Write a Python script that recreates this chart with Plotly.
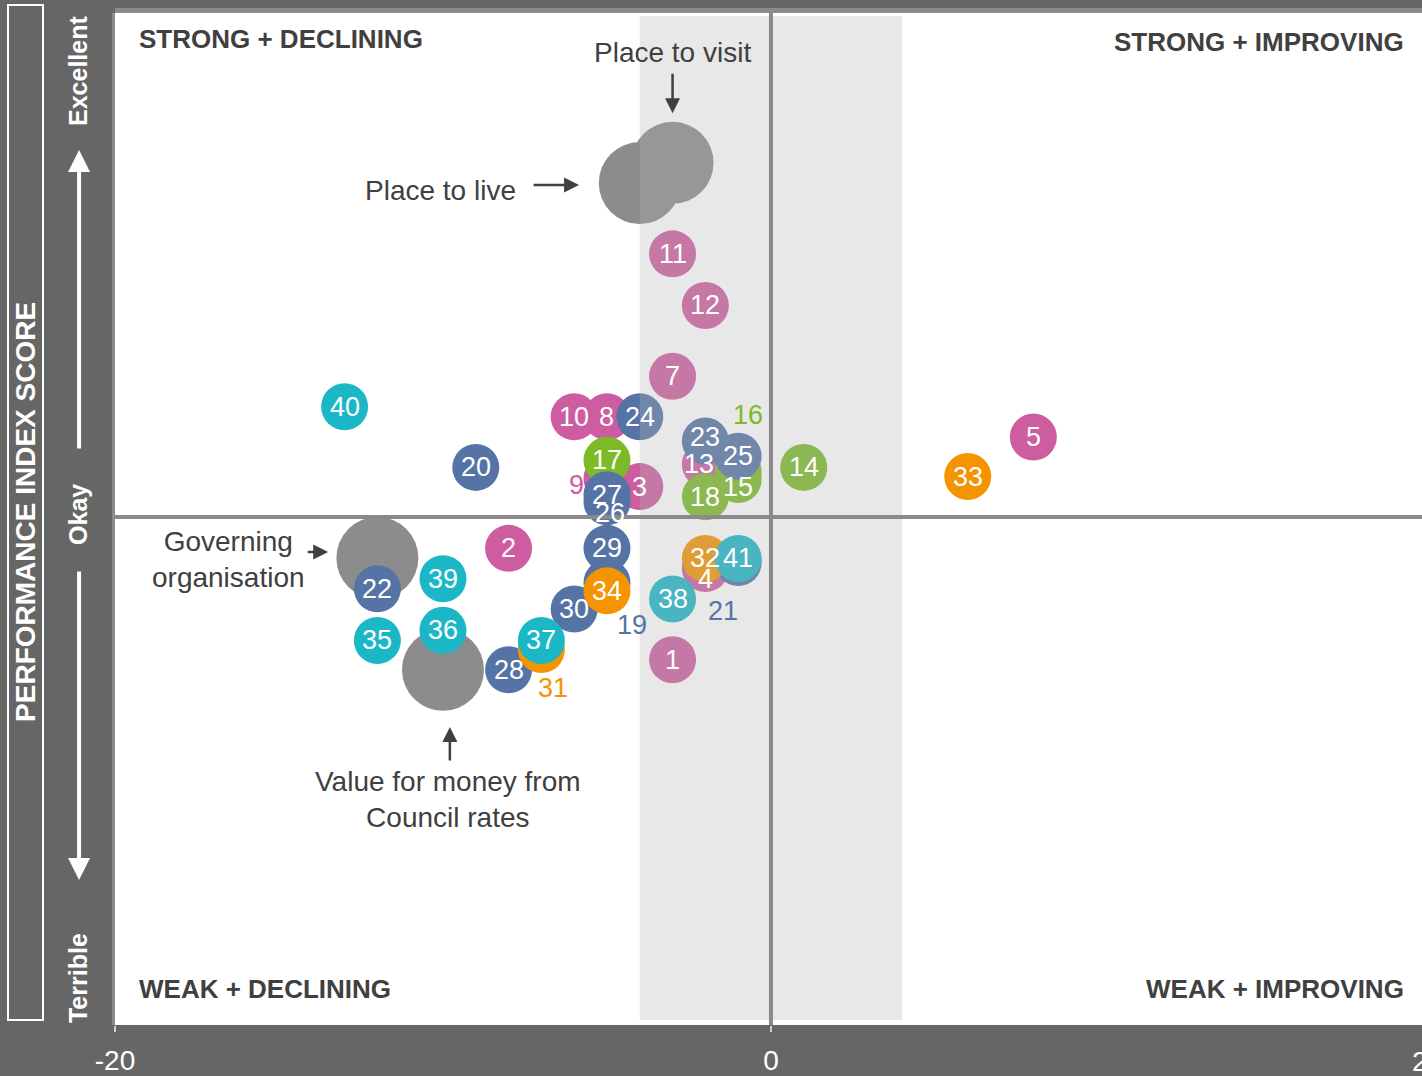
from plotly.graph_objects import Figure, Scatter


# performance index bubble chart: change (x) against score (y)

ids     = [1, 2, 3, 4, 5, 7, 8, 9, 10, 11, 12, 13,
           14, 15, 16, 17, 18,
           19, 20, 21, 22, 23, 24, 25, 26, 27, 28, 29, 30,
           31, 32, 33, 34,
           35, 36, 37, 38, 39, 40, 41]
change  = [-3, -8, -4, -2, 8, -3, -5, -5, -6, -3, -2, -2,
           1, -1, -1, -5, -2,
           -5, -9, -1, -12, -2, -4, -1, -5, -5, -8, -5, -6,
           -7, -2, 6, -5,
           -12, -10, -7, -3, -10, -13, -1]
score   = [-14.1, -3.1, 3.0, -5.1, 7.9, 13.9, 9.9, 3.8, 9.9, 26.0, 20.9, 5.2,
           4.9, 3.7, 4.5, 5.6, 2.0,
           -6.5, 4.9, -4.5, -7.1, 7.5, 9.9, 6.0, 1.5, 2.2, -15.1, -3.1, -9.1,
           -13.1, -4.1, 4.0, -7.3,
           -12.2, -11.2, -12.2, -8.1, -6.1, 10.9, -4.1]
group   = ["pink"] * 12 + ["green"] * 5 + ["blue"] * 12 + ["orange"] * 4 + ["cyan"] * 7

drivers         = ["Place to live", "Place to visit", "Governing organisation", "Value for money from Council rates"]
driver_change   = [-4, -3, -12, -10]
driver_score    = [33.0, 35.0, -4.05, -15.1]

colours = {
    "pink":   "#cd5da0",
    "green":  "#7cbb27",
    "blue":   "#5574a5",
    "orange": "#f39400",
    "cyan":   "#1bb7c6",
}

# labels that sit off their bubble (pixel shift, text colour)
moved_labels = {
    4:  (0, -10, "white"),
    9:  (-30, -6, colours["pink"]),
    13: (-6, 0, "white"),
    15: (0, -7, "white"),
    16: (10, 56, colours["green"]),
    19: (25, -42, colours["blue"]),
    21: (-15, -48, colours["blue"]),
    23: (0, 4, "white"),
    26: (3, -11, "white"),
    31: (12, -38, colours["orange"]),
}

FONT    = "Arial, Liberation Sans, sans-serif"
DARK    = "#404040"


if __name__ == "__main__":

    fig = Figure()

    fig.add_trace(Scatter(
        x = driver_change, y = driver_score, mode = "markers",
        marker = dict(size = 82, color = "#8c8c8c", line = dict(width = 0)),
        hoverinfo = "text", text = drivers, showlegend = False,
    ))

    for g in ["pink", "green", "blue", "orange", "cyan"]:

        idx = [i for i in range(len(ids)) if group[i] == g]

        fig.add_trace(Scatter(
            x = [change[i] for i in idx], y = [score[i] for i in idx], mode = "markers",
            marker = dict(size = 47, color = colours[g], line = dict(width = 0), opacity = 1),
            text = [str(ids[i]) for i in idx], hoverinfo = "text", showlegend = False,
        ))

    anns = []

    for i in range(len(ids)):

        dx, dy, col = moved_labels.get(ids[i], (0, 0, "white"))

        anns.append(dict(
            x = change[i], y = score[i], xref = "x", yref = "y", text = str(ids[i]),
            showarrow = False, xshift = dx, yshift = dy,
            font = dict(family = FONT, size = 27, color = col),
        ))

    # driver call-outs
    callouts = [
        ("Place to visit", -3, 45.85, "center"),
        ("Place to live", -10.09, 32.3, "center"),
        ("Governing<br>organisation", -16.55, -4.25, "center"),
        ("Value for money from<br>Council rates", -9.85, -27.9, "center"),
    ]
    for t, x, y, al in callouts:
        anns.append(dict(x = x, y = y, xref = "x", yref = "y", text = t, showarrow = False, align = al,
                         font = dict(family = FONT, size = 28, color = DARK)))

    arrows = [(-3, 39.9, 0, -41), (-5.85, 32.8, -47, 0), (-13.5, -3.46, -22, 0), (-9.79, -20.75, 0, 35)]
    for x, y, ax, ay in arrows:
        anns.append(dict(x = x, y = y, xref = "x", yref = "y", text = "", showarrow = True,
                         ax = ax, ay = ay, arrowhead = 2, arrowsize = 1.2, arrowwidth = 2.5,
                         arrowcolor = DARK, standoff = 0, startstandoff = 0))

    # quadrant labels
    quads = [
        ("STRONG + DECLINING", 0, 1, "left", 22, -26),
        ("STRONG + IMPROVING", 1, 1, "right", -16, -29),
        ("WEAK + DECLINING", 0, 0, "left", 22, 36),
        ("WEAK + IMPROVING", 1, 0, "right", -16, 36),
    ]
    for t, x, y, xa, xs, ys in quads:
        anns.append(dict(x = x, y = y, xref = "paper", yref = "paper", text = "<b>" + t + "</b>",
                         showarrow = False, xanchor = xa, yanchor = "middle", xshift = xs, yshift = ys,
                         font = dict(family = FONT, size = 26, color = DARK)))

    # left hand axis description
    anns.append(dict(x = 0, y = 0.507, xref = "paper", yref = "paper", text = "<b>PERFORMANCE INDEX SCORE</b>",
                     textangle = -90, showarrow = False, xanchor = "center", yanchor = "middle", xshift = -89,
                     font = dict(family = FONT, size = 28, color = "white")))
    for t, y in [("Excellent", 0.9427), ("Okay", 0.504), ("Terrible", 0.0464)]:
        anns.append(dict(x = 0, y = y, xref = "paper", yref = "paper", text = "<b>" + t + "</b>",
                         textangle = -90, showarrow = False, xanchor = "center", yanchor = "middle", xshift = -37,
                         font = dict(family = FONT, size = 25, color = "white")))
    for y, ay in [(0.8646, 300), (0.1433, -310)]:
        anns.append(dict(x = -0.0275, y = y, xref = "paper", yref = "paper", text = "", showarrow = True,
                         ax = 0, ay = ay, arrowhead = 2, arrowsize = 1.1, arrowwidth = 4,
                         arrowcolor = "white", standoff = 0, startstandoff = 0))

    # the "20" tick label that runs off the right edge
    anns.append(dict(x = 1, y = 0, xref = "paper", yref = "paper", text = "20", showarrow = False,
                     xanchor = "center", yanchor = "top", xshift = 5, yshift = -19,
                     font = dict(family = FONT, size = 28, color = "white")))

    shapes = [
        dict(type = "rect", xref = "x", yref = "paper", x0 = -4, x1 = 4, y0 = 0.005, y1 = 0.997,
             fillcolor = "rgba(180,180,180,0.3)", line = dict(width = 0), layer = "above"),
        dict(type = "line", xref = "x", yref = "paper", x0 = 0, x1 = 0, y0 = 0, y1 = 1,
             line = dict(color = "#8a8a8a", width = 4), layer = "above"),
        dict(type = "line", xref = "paper", yref = "y", x0 = 0, x1 = 1, y0 = 0, y1 = 0,
             line = dict(color = "#8a8a8a", width = 4), layer = "above"),
        dict(type = "rect", xref = "paper", yref = "paper", x0 = 0, x1 = 1, y0 = 0, y1 = 5,
             ysizemode = "pixel", yanchor = 1, fillcolor = "#8c8c8c", line = dict(width = 0)),
        dict(type = "rect", xref = "paper", yref = "paper", x0 = -3, x1 = 0, y0 = 0, y1 = 1,
             xsizemode = "pixel", xanchor = 0, fillcolor = "#8c8c8c", line = dict(width = 0)),
        dict(type = "rect", xref = "paper", yref = "paper", x0 = -107, x1 = -72, y0 = 5, y1 = 1020,
             xsizemode = "pixel", xanchor = 0, ysizemode = "pixel", yanchor = 0,
             line = dict(color = "white", width = 2), fillcolor = "rgba(0,0,0,0)"),
    ]

    fig.update_layout(
        width = 1422, height = 1076,
        margin = dict(l = 115, r = 0, t = 13, b = 51, pad = 0),
        paper_bgcolor = "#666666", plot_bgcolor = "white",
        annotations = anns, shapes = shapes, showlegend = False,
        xaxis = dict(range = [-20, 19.85], tickvals = [-20, 0], ticktext = ["-20", "0"],
                     ticks = "outside", ticklen = 6, tickwidth = 2, tickcolor = "#d0d0d0",
                     ticklabelstandoff = 4,
                     showgrid = False, zeroline = False, showline = False, fixedrange = True,
                     tickfont = dict(family = FONT, size = 28, color = "white")),
        yaxis = dict(range = [-50.2, 49.8], showticklabels = False, ticks = "",
                     showgrid = False, zeroline = False, showline = False, fixedrange = True),
    )

    # page body margin would push the figure 8px in
    fig.write_html("out.html", config = {"displayModeBar": False},
                   post_script = "document.body.style.margin='0';document.body.style.overflow='hidden';")
